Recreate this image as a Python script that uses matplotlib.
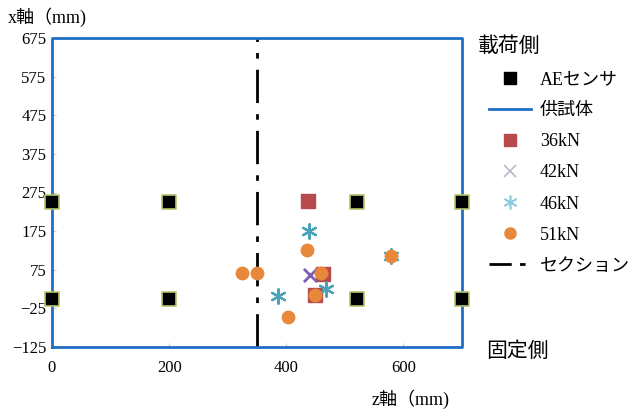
import numpy as np
import matplotlib.pyplot as plt
from matplotlib.lines import Line2D

plt.rcParams['font.family'] = ['Liberation Serif', 'Noto Sans CJK JP']

# AE sensor positions (z, x) in mm
sensor_z = [0, 200, 520, 700, 0, 200, 520, 700]
sensor_x = [250, 250, 250, 250, 0, 0, 0, 0]

# specimen outline
spec_z = [0, 700, 700, 0, 0]
spec_x = [-125, -125, 675, 675, -125]

section_z = 350

# source locations per load step
z36 = [437, 462, 449]
x36 = [253, 64, 10]
z42 = [440]
x42 = [61]
z46 = [439, 386, 468, 578]
x46 = [176, 8, 25, 111]
z51 = [435, 324, 350, 460, 449, 403, 578]
x51 = [126, 66, 66, 66, 10, -47, 111]

yticks = [-125, -25, 75, 175, 275, 375, 475, 575, 675]
xticks = [0, 200, 400, 600]

fig = plt.figure(figsize=(6.38, 4.12), dpi=100)
ax = fig.add_axes([52/638, 65/412, 410/638, 309/412])

ax.plot(spec_z, spec_x, color='#1f6fc4', lw=2, clip_on=False, zorder=2)
ax.plot([section_z, section_z], [-125, 675], color='black', lw=2,
        dashes=[12, 4, 2, 4], zorder=1)
ax.scatter(sensor_z, sensor_x, marker='s', s=110, color='black',
           edgecolors='#b5c46a', linewidths=1.2, clip_on=False, zorder=5)

ax.scatter(z36, x36, marker='s', s=110, color='#b84a4c', zorder=3)
ax.scatter(z42, x42, marker='x', s=90, color='#7b5fae', linewidths=2, zorder=4)
ax.scatter(z46, x46, marker=(6, 2, 0), s=110, color='#4aa3b8', linewidths=1.6, zorder=4)
ax.scatter(z51, x51, marker='o', s=80, color='#e8883a', zorder=4)

ax.set_xlim(0, 700)
ax.set_ylim(-125, 675)
ax.set_xticks(xticks)
ax.set_yticks(yticks)
ax.tick_params(direction='in', length=3, color='#cccccc', labelsize=12)
ax.tick_params(axis='x', pad=9)
ax.tick_params(axis='y', pad=4)
for s in ax.spines.values():
    s.set_visible(False)

fig.text(8/638, 1 - 17/412, 'x軸（mm)', fontsize=13, va='center', ha='left')
fig.text(372/638, 1 - 399/412, 'z軸（mm)', fontsize=13, va='center', ha='left')
fig.text(478/638, 1 - 47/412, '載荷側', fontsize=15, va='center', ha='left')
fig.text(486/638, 1 - 352/412, '固定側', fontsize=15, va='center', ha='left')

handles = [
    Line2D([], [], ls='none', marker='s', ms=8, color='black'),
    Line2D([], [], color='#1f6fc4', lw=2),
    Line2D([], [], ls='none', marker='s', ms=9, color='#b84a4c'),
    Line2D([], [], ls='none', marker='x', ms=9, color='#b9b6c8', mew=1.2),
    Line2D([], [], ls='none', marker=(6, 2, 0), ms=10, color='#8fcbe0', mew=1.2),
    Line2D([], [], ls='none', marker='o', ms=8, color='#e8883a'),
    Line2D([], [], color='black', lw=2, dashes=[8, 3, 2, 3]),
]
labels = ['AEセンサ', '供試体', '36kN', '42kN', '46kN', '51kN', 'セクション']
fig.legend(handles, labels, loc='upper left', bbox_to_anchor=(482/638, 1 - 64/412),
           frameon=False, fontsize=13, labelspacing=0.78, handlelength=2.3,
           handletextpad=0.5, borderaxespad=0)

fig.savefig('out.png', dpi=100)
